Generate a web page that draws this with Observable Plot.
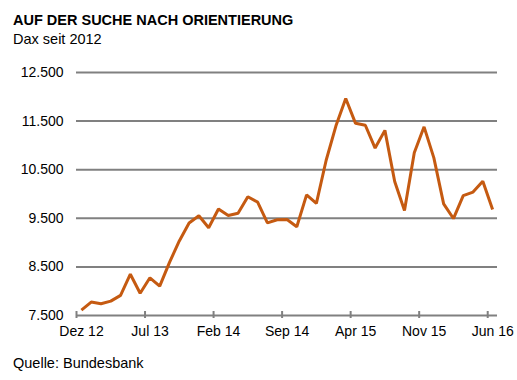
<!DOCTYPE html>
<html>
<head>
<meta charset="utf-8">
<script src="https://cdn.jsdelivr.net/npm/d3@7"></script>
<script src="https://cdn.jsdelivr.net/npm/@observablehq/plot@0.6"></script>
<style>
  html, body { margin: 0; padding: 0; background: #fff; }
  body { width: 517px; height: 380px; position: relative; overflow: hidden;
         font-family: Arial, "Liberation Sans", sans-serif; color: #000; }
  .t { position: absolute; left: 13px; font-size: 14.5px; line-height: 14px; white-space: nowrap; }
  #title { top: 13px; font-weight: bold; }
  #subtitle { top: 32px; }
  #caption { top: 356px; }
  #chart { position: absolute; left: 0; top: 52px; }
</style>
</head>
<body>
<div class="t" id="title">AUF DER SUCHE NACH ORIENTIERUNG</div>
<div class="t" id="subtitle">Dax seit 2012</div>
<div id="chart"></div>
<div class="t" id="caption">Quelle: Bundesbank</div>
<script>
// Monthly DAX values, Dez 2012 – Jun 2016
const months = [
  "2012-12","2013-01","2013-02","2013-03","2013-04","2013-05","2013-06","2013-07","2013-08","2013-09","2013-10","2013-11",
  "2013-12","2014-01","2014-02","2014-03","2014-04","2014-05","2014-06","2014-07","2014-08","2014-09","2014-10","2014-11",
  "2014-12","2015-01","2015-02","2015-03","2015-04","2015-05","2015-06","2015-07","2015-08","2015-09","2015-10","2015-11",
  "2015-12","2016-01","2016-02","2016-03","2016-04","2016-05","2016-06"
];
const dax = [
  7612, 7776, 7741, 7795, 7914, 8349, 7959, 8276, 8104, 8594, 9033, 9405,
  9552, 9306, 9692, 9556, 9603, 9943, 9833, 9407, 9470, 9474, 9327, 9981,
  9806, 10694, 11402, 11966, 11454, 11414, 10945, 11309, 10259, 9660, 10850, 11382,
  10743, 9798, 9495, 9966, 10039, 10263, 9680
];
const xTickMonths = [0, 7, 14, 21, 28, 35, 42];
const xTickLabels = ["Dez 12", "Jul 13", "Feb 14", "Sep 14", "Apr 15", "Nov 15", "Jun 16"];
const yTicks = [7500, 8500, 9500, 10500, 11500, 12500];

const data = months.map((m, i) => ({month: m, idx: i + 0.5, value: dax[i]}));
const fmt = v => d3.format(",")(v).replace(/,/g, ".");

const plot = Plot.plot({
  width: 517,
  height: 293,
  marginLeft: 76,
  marginRight: 20,
  marginTop: 20,
  marginBottom: 30,
  style: {fontFamily: "Arial, 'Liberation Sans', sans-serif", fontSize: "14px", color: "#000", background: "transparent"},
  x: {domain: [0, months.length], axis: null},
  y: {domain: [7500, 12500], axis: null},
  marks: [
    Plot.ruleY(yTicks, {stroke: "#808080", strokeWidth: 2}),
    Plot.ruleX(xTickMonths, {x: d => d, y1: 7500, y2: 7500, insetTop: -4, insetBottom: -3, stroke: "#808080", strokeWidth: 2}),
    Plot.axisY({ticks: yTicks, tickSize: 0, tickPadding: 13, tickFormat: fmt, label: null, fill: "#000", fontSize: 14}),
    Plot.axisX({ticks: xTickMonths, tickSize: 0, tickPadding: 11, tickFormat: (d) => xTickLabels[xTickMonths.indexOf(d)], label: null, dx: 5, fill: "#000", fontSize: 14}),
    Plot.line(data, {x: "idx", y: "value", stroke: "#c55a11", strokeWidth: 3, strokeLinejoin: "miter", strokeLinecap: "butt"})
  ]
});
document.getElementById("chart").appendChild(plot);
</script>
</body>
</html>
